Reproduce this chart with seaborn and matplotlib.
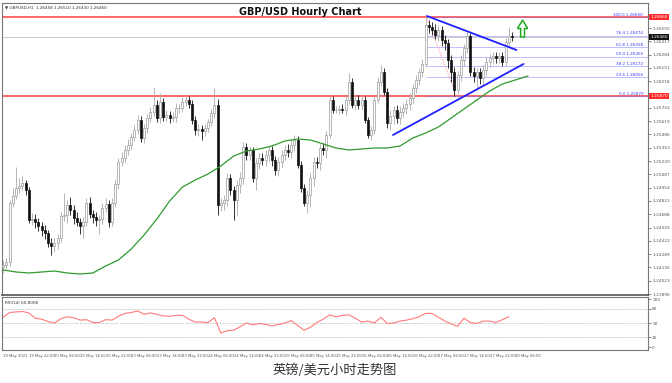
import numpy as np
import pandas as pd
import matplotlib
matplotlib.use("Agg")
import matplotlib.pyplot as plt
import matplotlib.transforms as mtransforms
from matplotlib.patches import Polygon
import seaborn as sns

# ---------------- data ----------------
PIP = 0.0001
first_open = 1.2416
closes = [
    1.2418, 1.2421, 1.2480, 1.2487, 1.2495, 1.2497, 1.2500, 1.2493, 1.2463, 1.2464,
    1.2461, 1.2457, 1.2453, 1.2450, 1.2440, 1.2437, 1.2440, 1.2445, 1.2467, 1.2468,
    1.2478, 1.2473, 1.2465, 1.2461, 1.2457, 1.2461, 1.2480, 1.2469, 1.2466, 1.2463,
    1.2464, 1.2475, 1.2479, 1.2461, 1.2480, 1.2499, 1.2521, 1.2525, 1.2533, 1.2538,
    1.2546, 1.2553, 1.2563, 1.2545, 1.2555, 1.2565, 1.2571, 1.2578, 1.2565, 1.2581,
    1.2566, 1.2568, 1.2565, 1.2566, 1.2575, 1.2575, 1.2581, 1.2583, 1.2579, 1.2563,
    1.2553, 1.2554, 1.2552, 1.2555, 1.2561, 1.2570, 1.2578, 1.2478, 1.2480, 1.2483,
    1.2505, 1.2493, 1.2483, 1.2498, 1.2505, 1.2536, 1.2528, 1.2533, 1.2505, 1.2520,
    1.2525, 1.2523, 1.2528, 1.2533, 1.2523, 1.2513, 1.2521, 1.2528, 1.2533, 1.2531,
    1.2538, 1.2543, 1.2518, 1.2495, 1.2480, 1.2488, 1.2505, 1.2521, 1.2520, 1.2535,
    1.2533, 1.2548, 1.2583, 1.2573, 1.2573, 1.2574, 1.2573, 1.2583, 1.2601, 1.2578,
    1.2583, 1.2578, 1.2583, 1.2563, 1.2548, 1.2553, 1.2583, 1.2601, 1.2611, 1.2591,
    1.2560, 1.2567, 1.2573, 1.2565, 1.2571, 1.2575, 1.2579, 1.2585, 1.2595, 1.2603,
    1.2611, 1.2619, 1.2658, 1.2656, 1.2653, 1.2648, 1.2653, 1.2643, 1.2640, 1.2623,
    1.2611, 1.2593, 1.2608, 1.2623, 1.2635, 1.2647, 1.2611, 1.2607, 1.2611, 1.2605,
    1.2613, 1.2621, 1.2625, 1.2627, 1.2625, 1.2627, 1.2621, 1.2641, 1.2647, 1.2646,
]
# wick lengths in pips above / below the candle body
wick_up = [
    5, 4, 3, 8, 21, 8, 7, 3, 3, 6,   5, 4, 4, 5, 3, 5, 5, 4, 4, 22,
    5, 8, 5, 6, 4, 5, 5, 6, 4, 5,    4, 5, 6, 4, 5, 5, 4, 6, 5, 6,
    4, 5, 5, 4, 4, 4, 5, 18, 5, 9,   4, 5, 4, 5, 5, 4, 5, 4, 4, 4,
    4, 5, 4, 4, 3, 4, 17, 6, 5, 5,   5, 4, 4, 5, 6, 5, 4, 4, 3, 5,
    5, 5, 5, 5, 4, 4, 5, 5, 5, 6,    5, 5, 4, 4, 4, 5, 5, 5, 5, 4,
    5, 4, 4, 4, 4, 4, 5, 4, 9, 4,    5, 5, 5, 4, 3, 4, 4, 5, 7, 4,
    4, 6, 4, 5, 6, 5, 5, 5, 4, 5,    4, 5, 9, 5, 5, 6, 5, 4, 5, 4,
    5, 5, 4, 5, 4, 4, 3, 5, 4, 4,    5, 5, 4, 4, 4, 4, 4, 4, 9, 4,
]
wick_dn = [
    6, 4, 4, 4, 3, 5, 4, 5, 3, 5,    6, 5, 6, 6, 4, 9, 6, 6, 4, 5,
    8, 5, 6, 4, 8, 12, 4, 4, 6, 6,   14, 5, 4, 5, 4, 4, 5, 4, 4, 5,
    4, 4, 4, 4, 5, 5, 4, 4, 4, 5,    4, 4, 5, 4, 5, 5, 4, 4, 4, 4,
    5, 6, 9, 5, 4, 4, 5, 10, 6, 7,   6, 5, 20, 15, 8, 6, 5, 5, 4, 12,
    6, 5, 6, 6, 6, 5, 6, 6, 5, 5,    6, 6, 3, 4, 3, 10, 12, 8, 5, 7,
    5, 8, 3, 3, 3, 4, 3, 5, 4, 3,    5, 4, 5, 3, 3, 5, 4, 3, 4, 3,
    5, 7, 8, 5, 6, 5, 6, 6, 5, 5,    5, 5, 3, 6, 5, 4, 6, 6, 7, 8,
    10, 6, 8, 6, 6, 5, 4, 6, 14, 6,  8, 6, 5, 6, 5, 5, 4, 4, 5, 4,
]
# moving average, one reading every 4 bars
ma_step = 4
ma_values = [
    1.2413, 1.2411, 1.2410, 1.2411, 1.2412, 1.2410, 1.2409, 1.2410, 1.2417, 1.2423,
    1.2434, 1.2448, 1.2464, 1.2482, 1.2496, 1.2503, 1.2509, 1.2517, 1.2527, 1.2532,
    1.2534, 1.2537, 1.2542, 1.2544, 1.2543, 1.2539, 1.2535, 1.2533, 1.2534, 1.2535,
    1.2535, 1.2537, 1.2545, 1.2550, 1.2556, 1.2565, 1.2574, 1.2583, 1.2592, 1.2599,
    1.2603, 1.2607,
]
# RSI(14), one reading every 2 bars
rsi_step = 2
rsi_values = [
    62, 72, 73, 74, 71, 60, 58, 53, 50, 59,  63, 61, 56, 57, 51, 51, 57, 56, 64, 70,
    72, 75, 68, 71, 68, 65, 64, 66, 66, 58,  52, 52, 51, 61, 29, 34, 35, 42, 50, 46,
    49, 47, 44, 47, 50, 55, 45, 35, 41, 51,  58, 67, 63, 66, 67, 60, 52, 54, 50, 62,
    49, 50, 54, 56, 59, 63, 70, 70, 62, 54,  48, 43, 60, 51, 49, 54, 54, 51, 57, 63,
]
x_label_step = 8
x_labels = [
    "19 May 2022", "19 May 22:00", "20 May 06:00", "20 May 14:00", "20 May 22:00",
    "23 May 06:00", "23 May 14:00", "23 May 22:00", "24 May 06:00", "24 May 14:00",
    "24 May 22:00", "25 May 06:00", "25 May 14:00", "25 May 22:00", "26 May 06:00",
    "26 May 14:00", "26 May 22:00", "27 May 06:00", "27 May 14:00", "27 May 22:00",
    "30 May 06:00",
]
price_ticks = [
    1.23890, 1.24023, 1.24156, 1.24289, 1.24422, 1.24555, 1.24688, 1.24821, 1.24954,
    1.25087, 1.25220, 1.25353, 1.25486, 1.25619, 1.25752, 1.26018, 1.26151, 1.26284,
    1.26417, 1.26550,
]
rsi_ticks = [100, 80, 50, 20, 0]
rsi_levels = [80, 50, 20]
rsi_last = "60.8008"
resistance = 1.2666
support = 1.2587
fib_ratios = [0.0, 23.6, 38.2, 50.0, 61.8, 76.4, 100.0]
fib_high_time = 132.3
fib_low_time = 141.6
upper_trend_t = [132.4, 160.4]
upper_trend_p = [1.2667, 1.2633]
lower_trend_t = [121.8, 162.6]
lower_trend_p = [1.2548, 1.2619]
arrow_t = 162.3
arrow_base = 1.2646
arrow_tip = 1.2663
title = "GBP/USD Hourly Chart"
caption = "英镑/美元小时走势图"
header = "GBPUSD,H1  1.26458 1.26510 1.26430 1.26460"

# ---------------- figure ----------------
sns.set_style("white")
plt.rcParams["font.family"] = ["DejaVu Sans"]

W, H = 672, 383
fig = plt.figure(figsize=(W / 100, H / 100), dpi=100)
fig.patch.set_facecolor("white")

def frac_box(x0, y0, x1, y1):
    return [x0 / W, 1 - y1 / H, (x1 - x0) / W, (y1 - y0) / H]

ax = fig.add_axes(frac_box(2, 3, 648, 295))
ax2 = fig.add_axes(frac_box(2, 297, 648, 350))
XLIM = (-0.4, 201.5)

n = len(closes)
t = np.arange(n)
c = np.array(closes)
o = np.array([first_open] + closes[:-1])
hi = np.maximum(o, c) + np.array(wick_up) * PIP
lo = np.minimum(o, c) - np.array(wick_dn) * PIP
bull = c >= o

# reference lines (current price, support / resistance)
ax.axhline(c[-1], color="#c4c4c4", lw=0.6, zorder=1)
ax.axhline(resistance, color="#ff5a5a", lw=1.3, zorder=2)
ax.axhline(support, color="#ff5a5a", lw=1.3, zorder=2)

# fibonacci
rng = resistance - support
for r in fib_ratios:
    lvl = support + rng * r / 100
    ax.plot([fib_high_time, XLIM[1]], [lvl, lvl], color="#6a6aff", lw=0.6,
            ls=(0, (1.2, 1.2)), zorder=2)
    ax.text(XLIM[1] - 1.5, lvl + 0.00003, f"{r:.1f} {lvl:.5f}", color="#3a3aff",
            fontsize=3.0, ha="right", va="bottom", zorder=3)
ax.plot([fib_high_time, fib_low_time], [resistance, support], color="#ff8a8a",
        lw=0.6, ls=(0, (1.5, 1.5)), zorder=2)

# candles
ax.vlines(t[bull], lo[bull], hi[bull], color="#a9a9a9", lw=0.6, zorder=3)
ax.vlines(t[~bull], lo[~bull], hi[~bull], color="#111111", lw=0.6, zorder=3)
body_bottom = np.minimum(o, c)
body_h = np.maximum(np.abs(c - o), 0.00004)
ax.bar(t[bull], body_h[bull], bottom=body_bottom[bull], width=0.62,
       color="white", edgecolor="#9a9a9a", linewidth=0.5, zorder=4)
ax.bar(t[~bull], body_h[~bull], bottom=body_bottom[~bull], width=0.62,
       color="#111111", edgecolor="#111111", linewidth=0.5, zorder=4)

# moving average
ma_df = pd.DataFrame({"t": np.arange(len(ma_values)) * ma_step, "ma": ma_values})
sns.lineplot(data=ma_df, x="t", y="ma", ax=ax, color="#2f9a2f", lw=0.9,
             legend=False, zorder=5)

# trend lines
ax.plot(upper_trend_t, upper_trend_p, color="#1f1fff", lw=1.3, zorder=6)
ax.plot(lower_trend_t, lower_trend_p, color="#1f1fff", lw=1.3, zorder=6)

# hollow green up arrow
ah = (arrow_tip - arrow_base)
head_base = arrow_base + ah * 0.5
pts = [
    (arrow_t - 0.6, arrow_base), (arrow_t + 0.6, arrow_base),
    (arrow_t + 0.6, head_base), (arrow_t + 1.6, head_base),
    (arrow_t, arrow_tip), (arrow_t - 1.6, head_base),
    (arrow_t - 0.6, head_base),
]
ax.add_patch(Polygon(pts, closed=True, facecolor="white", edgecolor="#22aa22",
                     lw=1.1, zorder=7))

ax.set_xlim(*XLIM)
ax.set_ylim(1.2388, 1.2680)
ax.yaxis.tick_right()
ax.set_yticks(price_ticks)
ax.set_yticklabels([f"{v:.5f}" for v in price_ticks])
ax.tick_params(axis="y", labelsize=3.1, length=1.8, width=0.5, colors="#555555", pad=1.2)
ax.set_xticks([])
ax.set_xlabel("")
ax.set_ylabel("")
for s in ax.spines.values():
    s.set_color("#777777")
    s.set_linewidth(0.8)
ax.spines["bottom"].set_color("#555555")
ax.spines["bottom"].set_linewidth(1.2)

# price boxes on the axis
tr = mtransforms.blended_transform_factory(ax.transAxes, ax.transData)
for val, fc in [(resistance, "#ff2a2a"), (support, "#ff2a2a"), (c[-1], "#111111")]:
    ax.text(1.004, val, f"{val:.5f}", transform=tr, fontsize=3.1, color="white",
            ha="left", va="center", clip_on=False, zorder=10,
            bbox=dict(facecolor=fc, edgecolor="none", pad=0.8))

ax.text(0.004, 0.992, "▼ " + header, transform=ax.transAxes, fontsize=3.0,
        color="#333333", ha="left", va="top")
ax.text(0.462, 0.968, title, transform=ax.transAxes, fontsize=7, fontweight="bold",
        color="#111111", ha="center", va="center")

# RSI panel
for lv in rsi_levels:
    ax2.axhline(lv, color="#b8b8b8", lw=0.6, ls=(0, (1.5, 1.5)))
rsi_df = pd.DataFrame({"t": np.arange(len(rsi_values)) * rsi_step, "rsi": rsi_values})
sns.lineplot(data=rsi_df, x="t", y="rsi", ax=ax2, color="#ff7a7a", lw=0.8, legend=False)
ax2.set_xlim(*XLIM)
ax2.set_ylim(-6.25, 104.2)
ax2.yaxis.tick_right()
ax2.set_yticks(rsi_ticks)
ax2.set_yticklabels([str(v) for v in rsi_ticks])
ax2.tick_params(axis="y", labelsize=3.1, length=1.8, width=0.5, colors="#555555", pad=1.2)
ax2.set_xticks(np.arange(len(x_labels)) * x_label_step)
ax2.set_xticklabels(x_labels, ha="left")
ax2.tick_params(axis="x", labelsize=2.7, length=1.8, width=0.5, colors="#555555", pad=1)
ax2.set_xlabel("")
ax2.set_ylabel("")
for s in ax2.spines.values():
    s.set_color("#777777")
    s.set_linewidth(0.8)
ax2.text(0.004, 0.93, f"RSI(14) {rsi_last}", transform=ax2.transAxes, fontsize=3.0,
         color="#333333", ha="left", va="top")

fig.text(0.4985, 1 - 370 / H, caption, fontsize=9.5, color="#333333",
         ha="center", va="center", family=["Noto Sans CJK SC", "DejaVu Sans"])

fig.savefig("out.png", dpi=100)
